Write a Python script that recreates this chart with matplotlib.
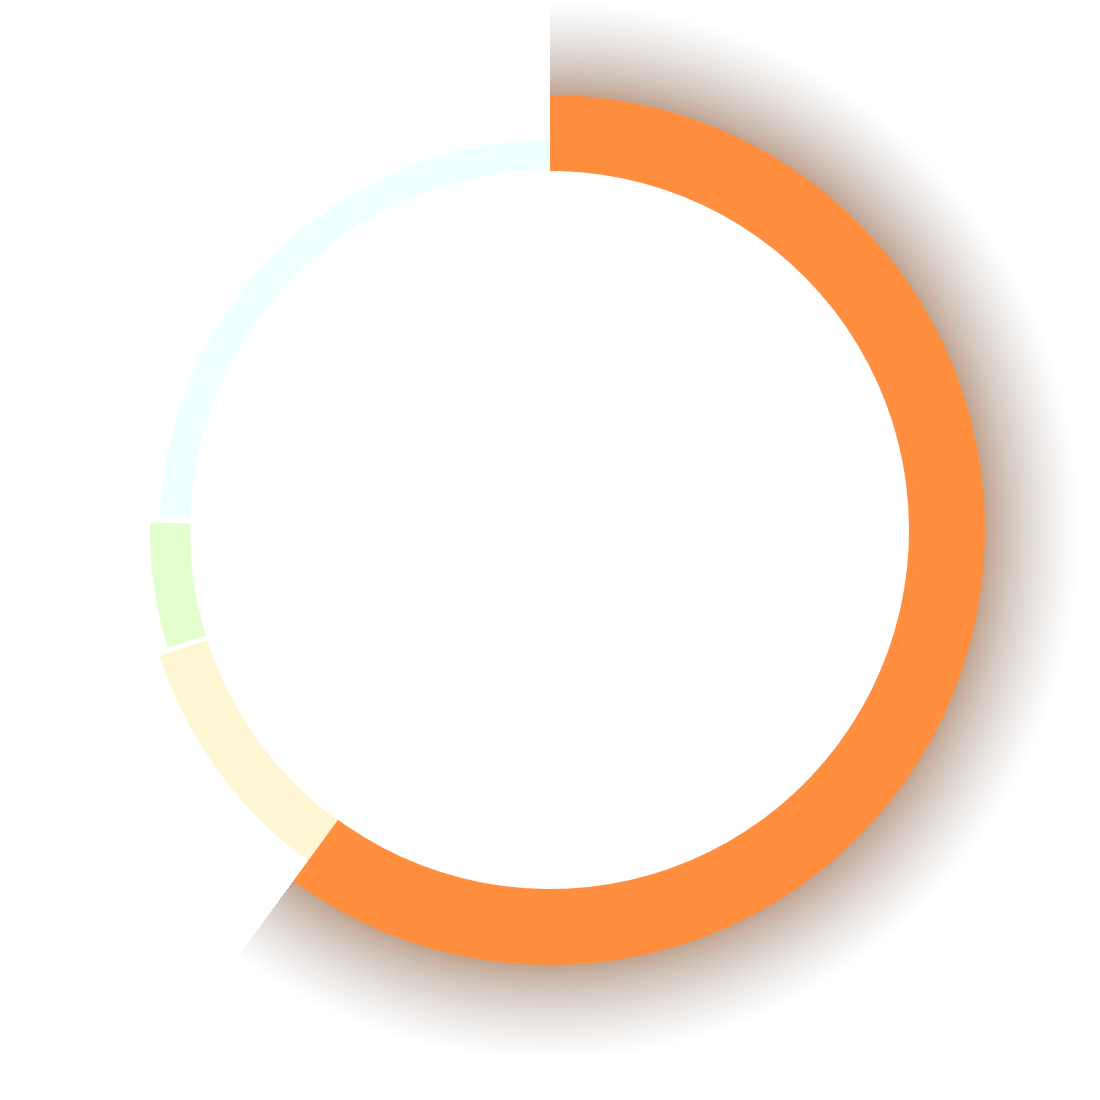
import numpy as np
import matplotlib
matplotlib.use("Agg")
import matplotlib.pyplot as plt
from matplotlib.patches import Wedge

# datos del anillo (sentido horario desde arriba)
categorias = ["A", "B", "C", "D"]
valores = [60.05, 10.1, 5.25, 24.6]
colores = ["#FF8F3E", "#FFF7D4", "#E3FFCE", "#F0FFFF"]
radio_ext = [435, 410, 400, 390]
radio_int = 360
destacado = 0

W = H = 1100
cx, cy = 550, H - 530


def main():
    fig = plt.figure(figsize=(11, 11), dpi=100)
    ax = fig.add_axes([0, 0, 1, 1])
    ax.set_xlim(0, W)
    ax.set_ylim(0, H)
    ax.set_aspect("equal")
    ax.axis("off")

    total = sum(valores)
    angulos = np.cumsum([0] + [v / total * 360 for v in valores])

    # sombra del sector destacado
    a0, a1 = angulos[destacado], angulos[destacado + 1]
    X, Y = np.meshgrid(np.arange(W) + 0.5, np.arange(H) + 0.5)
    r = np.hypot(X - cx, Y - cy)
    ang = np.degrees(np.arctan2(X - cx, Y - cy)) % 360
    x = np.clip((r - radio_ext[destacado]) / 95.0, 0, 1)
    d = 0.48 * (1 - x) ** 1.15
    mask = (ang >= a0) & (ang <= a1) & (r >= radio_ext[destacado] - 2)
    d = np.where(mask, d, 0)
    marron = np.array([125, 65, 25]) / 255
    gris = np.array([125, 118, 112]) / 255
    t = (x ** 0.8)[..., None]
    col = marron * (1 - t) + gris * t
    img = np.zeros((H, W, 4))
    img[..., :3] = col
    img[..., 3] = d
    ax.imshow(img, extent=(0, W, 0, H), origin="lower", zorder=1,
              interpolation="bilinear")

    # sectores: los vecinos del destacado se prolongan bajo él
    n = len(categorias)
    for i in range(n):
        t1 = 90 - angulos[i + 1]
        t2 = 90 - angulos[i]
        if i == destacado:
            w = Wedge((cx, cy), radio_ext[i], t1, t2,
                      width=radio_ext[i] - radio_int + 1,
                      facecolor=colores[i], edgecolor="none", zorder=3)
        else:
            if (i - 1) % n == destacado:
                t2 += 1.0
            if (i + 1) % n == destacado:
                t1 -= 1.0
            w = Wedge((cx, cy), radio_ext[i], t1, t2,
                      width=radio_ext[i] - radio_int,
                      facecolor=colores[i], edgecolor="none", zorder=2)
        ax.add_patch(w)

    # separaciones blancas entre sectores no destacados
    for i in range(n):
        j = (i + 1) % n
        if destacado in (i, j):
            continue
        a = np.radians(angulos[i + 1])
        r0, r1 = radio_int - 5, max(radio_ext[i], radio_ext[j]) + 5
        ax.plot([cx + r0 * np.sin(a), cx + r1 * np.sin(a)],
                [cy + r0 * np.cos(a), cy + r1 * np.cos(a)],
                color="white", linewidth=3.6, solid_capstyle="butt", zorder=2.5)

    fig.savefig("out.png", dpi=100, facecolor="white")


if __name__ == "__main__":
    main()
